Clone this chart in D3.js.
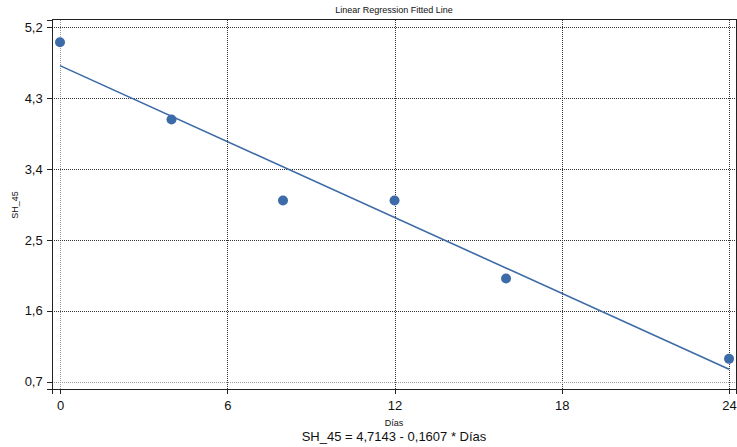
<!DOCTYPE html>
<html><head><meta charset="utf-8">
<script src="https://cdn.jsdelivr.net/npm/d3@7"></script>
<style>body{margin:0;background:#fff}</style>
</head><body>
<svg id="c" width="737" height="447"></svg>
<script>
const dias = [0, 4, 8, 12, 16, 24];
const sh45 = [5.01, 4.03, 3.0, 3.0, 2.01, 0.99];
const xTicks = [0, 6, 12, 18, 24];
const yTicks = [0.7, 1.6, 2.5, 3.4, 4.3, 5.2];
const intercept = 4.7143, slope = -0.1607;
const fitX = [0, 24];

const svg = d3.select("#c");
const L = 52, R = 736, T = 19.5, B = 389;
const x = d3.scaleLinear().domain([-0.287, 24.25]).range([L, R]);
const y = d3.scaleLinear().domain([0.607, 5.3]).range([B, T]);
const font = "Liberation Sans, Arial, sans-serif";
const blue = "#3d6ba7";
const px = v => Math.round(v) + 0.5;

// grid
svg.append("g").attr("shape-rendering", "crispEdges").selectAll("line").data(xTicks).join("line")
  .attr("x1", d => px(x(d))).attr("x2", d => px(x(d))).attr("y1", T).attr("y2", B)
  .attr("stroke", d => d === 0 ? "#999" : "#333").attr("stroke-width", 1).attr("stroke-dasharray", "1,1");
svg.append("g").attr("shape-rendering", "crispEdges").selectAll("line").data(yTicks).join("line")
  .attr("x1", L).attr("x2", R).attr("y1", d => px(y(d))).attr("y2", d => px(y(d)))
  .attr("stroke", d => (d === 0.7) ? "#999" : "#333").attr("stroke-width", 1).attr("stroke-dasharray", "1,1");

// frame
svg.append("rect").attr("x", L).attr("y", T).attr("width", R - L).attr("height", B - T)
  .attr("shape-rendering", "crispEdges")
  .attr("fill", "none").attr("stroke", "#222").attr("stroke-width", 1);

// axes
const fmt = d => d3.format(".1f")(d).replace(".", ",");
const xa = svg.append("g").attr("transform", `translate(0,${B})`)
  .call(d3.axisBottom(x).tickValues(xTicks).tickSize(5).tickFormat(d => d));
const ya = svg.append("g").attr("transform", `translate(${L},0)`)
  .call(d3.axisLeft(y).tickValues(yTicks).tickSize(5).tickFormat(fmt));
[xa, ya].forEach(a => {
  a.attr("shape-rendering", "crispEdges");
  a.select(".domain").attr("stroke", "#222");
  a.selectAll(".tick line").attr("stroke", "#222");
  a.selectAll("text").attr("font-family", font).attr("font-size", 13).attr("fill", "#111");
});
xa.selectAll("text").attr("dy", "1.0em");
ya.selectAll("text").attr("dx", "-0.1em");

// fitted line
svg.append("path").datum(fitX)
  .attr("d", d3.line().x(d => x(d)).y(d => y(intercept + slope * d)))
  .attr("stroke", blue).attr("stroke-width", 1.6).attr("fill", "none");

// points
svg.append("g").selectAll("circle").data(dias).join("circle")
  .attr("cx", d => x(d)).attr("cy", (d, i) => y(sh45[i])).attr("r", 5)
  .attr("fill", blue);

// texts
svg.append("text").attr("x", 394).attr("y", 13).attr("text-anchor", "middle")
  .attr("font-family", font).attr("font-size", 9).attr("fill", "#111").text("Linear Regression Fitted Line");
svg.append("text").attr("x", 394).attr("y", 426).attr("text-anchor", "middle")
  .attr("font-family", font).attr("font-size", 9).attr("fill", "#111").text("Días");
svg.append("text").attr("x", 394).attr("y", 441).attr("text-anchor", "middle")
  .attr("font-family", font).attr("font-size", 13).attr("fill", "#111").text("SH_45 = 4,7143 - 0,1607 * Días");
svg.append("text").attr("transform", "translate(18,205) rotate(-90)").attr("text-anchor", "middle")
  .attr("font-family", font).attr("font-size", 9).attr("fill", "#111").text("SH_45");
</script>
</body></html>
